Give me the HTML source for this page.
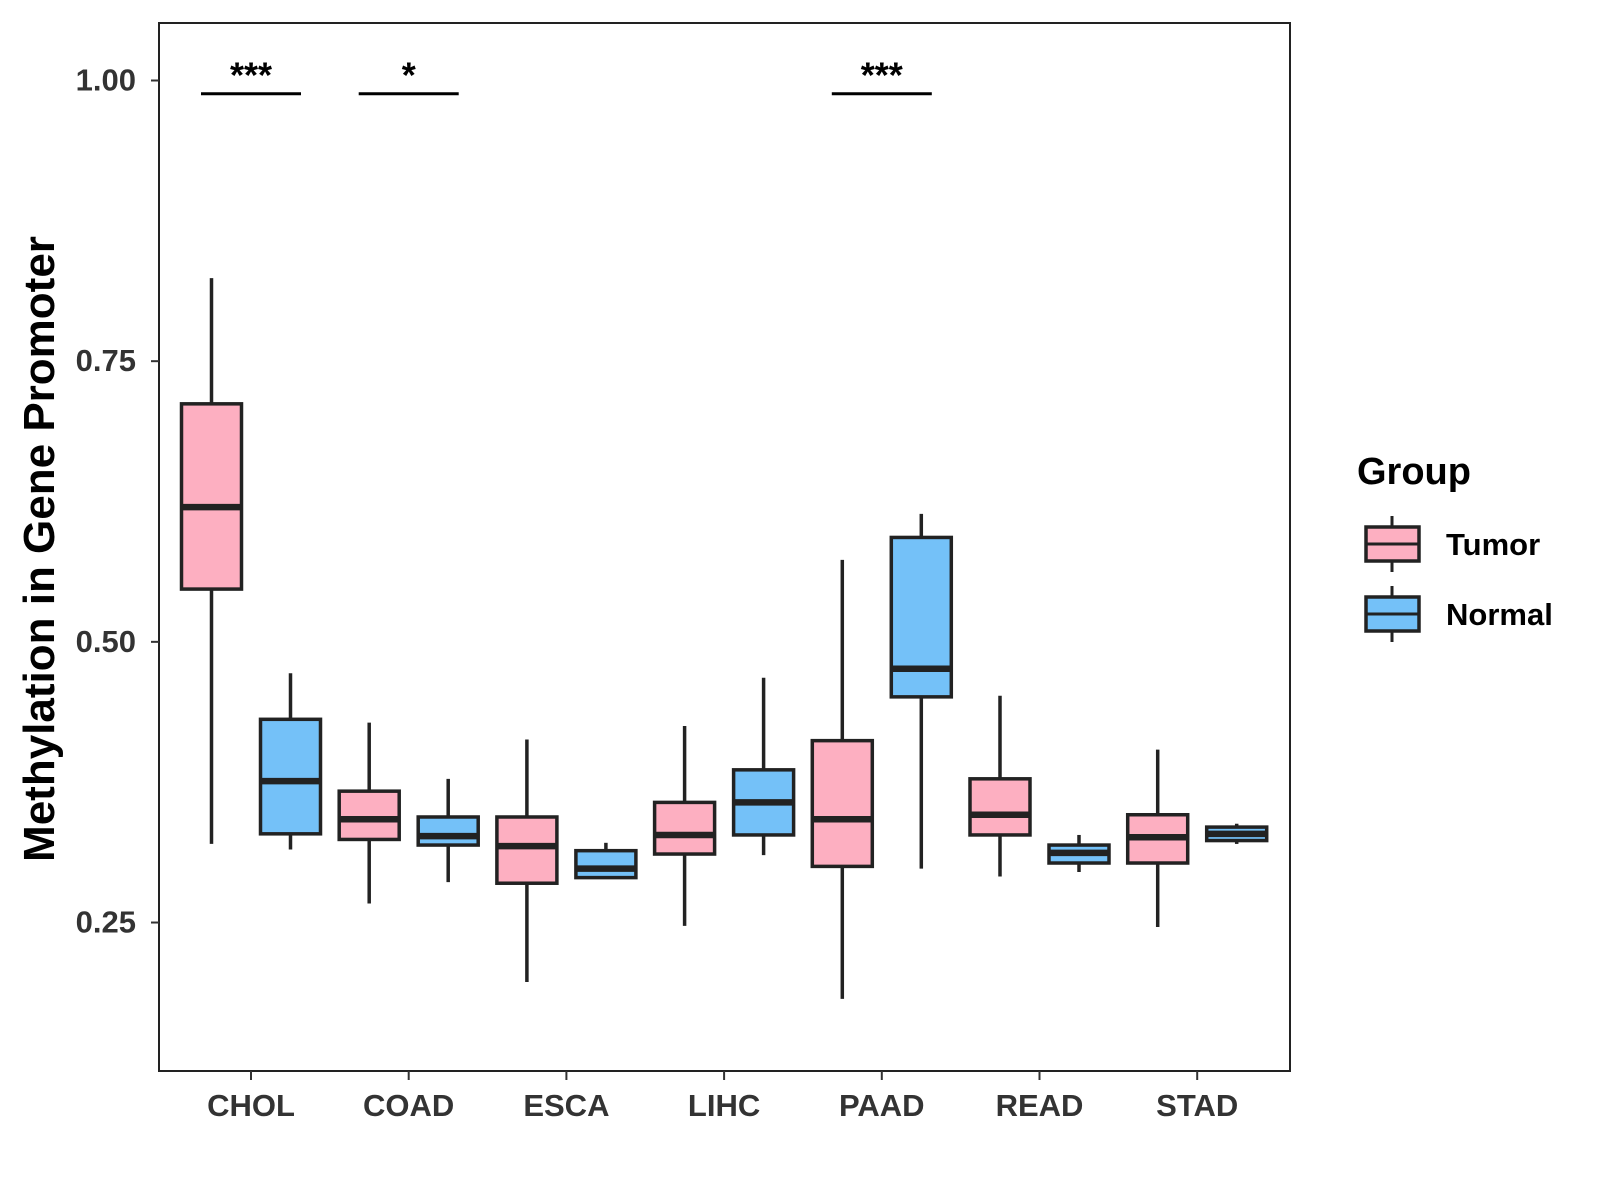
<!DOCTYPE html>
<html><head><meta charset="utf-8"><style>body{margin:0;background:#fff}svg{display:block}text{font-family:"Liberation Sans",Arial,sans-serif;font-weight:bold}</style></head>
<body>
<svg id="chart" width="1600" height="1200" viewBox="0 0 1600 1200" xmlns="http://www.w3.org/2000/svg"></svg>
<script>
const categories=["CHOL","COAD","ESCA","LIHC","PAAD","READ","STAD"];
const groups=["Tumor","Normal"];
const colors=["#FDAFC1","#74C1F8"];
// [whiskerLow, q1, median, q3, whiskerHigh]
const tumorStats=[[0.320,0.547,0.620,0.712,0.824],[0.267,0.324,0.342,0.367,0.428],[0.197,0.285,0.318,0.344,0.413],[0.247,0.311,0.328,0.357,0.425],[0.182,0.300,0.342,0.412,0.573],[0.291,0.328,0.346,0.378,0.452],[0.246,0.303,0.326,0.346,0.404]];
const normalStats=[[0.315,0.329,0.376,0.431,0.472],[0.286,0.319,0.327,0.344,0.378],[0.290,0.290,0.298,0.314,0.321],[0.310,0.328,0.357,0.386,0.468],[0.298,0.451,0.476,0.593,0.614],[0.295,0.303,0.312,0.319,0.328],[0.320,0.323,0.329,0.335,0.338]];
const yTicks=[0.25,0.50,0.75,1.00];
const yTickLabels=["0.25","0.50","0.75","1.00"];
const sigCats=["CHOL","COAD","PAAD"];
const sigLabels=["***","*","***"];
const sigLevel=0.99;

const svg=document.getElementById('chart');const NS="http://www.w3.org/2000/svg";
const L=159,R=1290,T=23,B=1071;
const y=v=>80.5+(1-v)*1122.7;
const x=i=>251+i*157.7;
function el(tag,attrs,parent){const e=document.createElementNS(NS,tag);for(const k in attrs)e.setAttribute(k,attrs[k]);(parent||svg).appendChild(e);return e;}
const frame=el('rect',{x:L,y:T,width:R-L,height:B-T,fill:'none',stroke:'#222','stroke-width':2});


yTicks.forEach((v,i)=>{
 const t=el('line',{x1:L-8,x2:L,y1:y(v),y2:y(v),stroke:'#333','stroke-width':2});
 
 
 const lb=el('text',{x:L-23,y:y(v)+10,'text-anchor':'end','font-size':31,fill:'#333'});lb.textContent=yTickLabels[i];
 
 
});
categories.forEach((c,i)=>{
 const t=el('line',{x1:x(i),x2:x(i),y1:B,y2:B+9,stroke:'#333','stroke-width':2});
 
 
 const lb=el('text',{x:x(i),y:B+45,'text-anchor':'middle','font-size':31,fill:'#333'});lb.textContent=c;
 
 
 [tumorStats[i],normalStats[i]].forEach((s,g)=>{
  const cx=x(i)+(g===0?-39.5:39.5),w=60;
  const grp=el('g',{});
  
  
  el('line',{x1:cx,x2:cx,y1:y(s[4]),y2:y(s[0]),stroke:'#222','stroke-width':3.5},grp);
  el('rect',{x:cx-w/2,y:y(s[3]),width:w,height:Math.max(y(s[1])-y(s[3]),0.5),fill:colors[g],stroke:'#222','stroke-width':3.5},grp);
  el('line',{x1:cx-w/2,x2:cx+w/2,y1:y(s[2]),y2:y(s[2]),stroke:'#222','stroke-width':6.5},grp);
 });
});
sigCats.forEach((c,k)=>{
 const i=categories.indexOf(c);
 const ln=el('line',{x1:x(i)-50,x2:x(i)+50,y1:y(sigLevel)+2,y2:y(sigLevel)+2,stroke:'#000','stroke-width':3});
 
 
 const t=el('text',{x:x(i),y:y(sigLevel)-4,'text-anchor':'middle','font-size':36,fill:'#000'});t.textContent=sigLabels[k];
 
 
});
const yt=el('text',{x:0,y:0,transform:'translate(54,549) rotate(-90)','text-anchor':'middle','font-size':44,fill:'#000'});yt.textContent='Methylation in Gene Promoter';


const lt=el('text',{x:1357,y:484,'font-size':38,fill:'#000'});lt.textContent='Group';


groups.forEach((g,k)=>{
 const cy=544+k*70;
 const grp=el('g',{});
 
 
 el('line',{x1:1392,x2:1392,y1:cy-28,y2:cy+28,stroke:'#222','stroke-width':3},grp);
 el('rect',{x:1366,y:cy-17,width:53,height:34,fill:colors[k],stroke:'#222','stroke-width':3.5},grp);
 el('line',{x1:1366,x2:1419,y1:cy,y2:cy,stroke:'#222','stroke-width':3},grp);
 const t=el('text',{x:1446,y:cy+11,'font-size':31,fill:'#000'},grp);t.textContent=g;
});
</script>
</body></html>
